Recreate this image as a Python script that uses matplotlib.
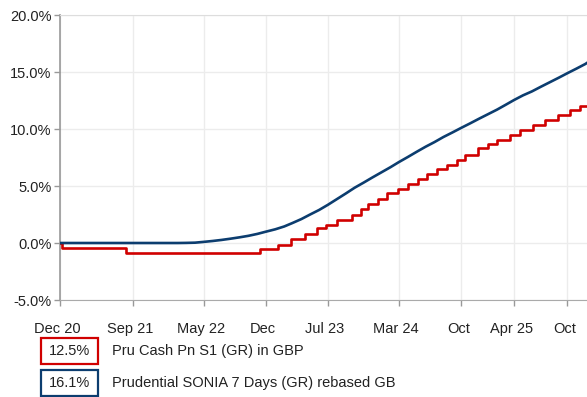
import pandas as pd
import matplotlib.pyplot as plt
import matplotlib.dates as mdates
import matplotlib.transforms as mtransforms
from matplotlib.patches import Rectangle

plt.rcParams['font.family'] = ['Liberation Sans', 'DejaVu Sans']

# Pru Cash Pn S1 (GR) in GBP - cumulative % growth, step changes
cash_dates = ['2020-12-23', '2020-12-30', '2021-08-07', '2022-11-10', '2023-01-11',
              '2023-02-24', '2023-04-14', '2023-05-25', '2023-06-25', '2023-08-01',
              '2023-09-22', '2023-10-23', '2023-11-16', '2023-12-20', '2024-01-20',
              '2024-02-27', '2024-04-01', '2024-05-07', '2024-06-06', '2024-07-10',
              '2024-08-13', '2024-09-17', '2024-10-14', '2024-11-28', '2025-01-01',
              '2025-02-01', '2025-03-18', '2025-04-21', '2025-06-05', '2025-07-16',
              '2025-08-30', '2025-10-10', '2025-11-13', '2025-12-07']
cash_vals = [0.0, -0.4, -0.9, -0.52, -0.18, 0.32, 0.76, 1.29, 1.58, 2.0,
             2.5, 2.95, 3.45, 3.9, 4.36, 4.74, 5.18, 5.6, 6.03, 6.47,
             6.84, 7.28, 7.72, 8.3, 8.66, 9.03, 9.47, 9.9, 10.35, 10.8,
             11.2, 11.67, 12.0, 12.0]

# Prudential SONIA 7 Days (GR) rebased GB - cumulative % growth
sonia_dates = ['2020-12-23', '2022-02-01', '2022-03-01', '2022-04-01', '2022-05-01',
               '2022-06-01', '2022-07-01', '2022-08-01', '2022-09-01', '2022-10-01',
               '2022-11-01', '2022-12-01', '2023-01-01', '2023-02-01', '2023-03-01',
               '2023-04-01', '2023-05-01', '2023-06-01', '2023-07-01', '2023-08-01',
               '2023-09-01', '2023-10-01', '2023-11-01', '2023-12-01', '2024-01-01',
               '2024-02-01', '2024-03-01', '2024-04-01', '2024-05-01', '2024-06-01',
               '2024-07-01', '2024-08-01', '2024-09-01', '2024-10-01', '2024-11-01',
               '2024-12-01', '2025-01-01', '2025-02-01', '2025-03-01', '2025-04-01',
               '2025-05-01', '2025-06-01', '2025-07-01', '2025-08-01', '2025-09-01',
               '2025-10-01', '2025-11-01', '2025-12-01', '2025-12-07']
sonia_vals = [0.0, 0.0, 0.01, 0.03, 0.1, 0.18, 0.27, 0.38, 0.5, 0.63,
              0.8, 1.0, 1.2, 1.45, 1.75, 2.1, 2.5, 2.9, 3.35, 3.85,
              4.35, 4.85, 5.3, 5.75, 6.2, 6.65, 7.1, 7.55, 8.0, 8.45,
              8.85, 9.3, 9.7, 10.1, 10.5, 10.9, 11.3, 11.7, 12.1, 12.55,
              12.95, 13.3, 13.7, 14.1, 14.5, 14.9, 15.3, 15.7, 15.8]

tick_dates = ['2020-12-23', '2021-09-01', '2022-05-01', '2022-12-01', '2023-07-01',
              '2024-03-01', '2024-10-01', '2025-04-01', '2025-10-01']
tick_labels = ['Dec 20', 'Sep 21', 'May 22', 'Dec', 'Jul 23', 'Mar 24', 'Oct',
               'Apr 25', 'Oct']

legend_values = ['12.5%', '16.1%']
legend_names = ['Pru Cash Pn S1 (GR) in GBP',
                'Prudential SONIA 7 Days (GR) rebased GB']

red = '#d00000'
blue = '#0c3d6f'
text_col = '#222222'

fig = plt.figure(figsize=(5.87, 3.97), dpi=100)
ax = fig.add_axes([0.1022, 0.2443, 0.8978, 0.7179])

ax.step(pd.to_datetime(cash_dates), cash_vals, where='post', color=red, lw=1.9,
        zorder=3)
ax.plot(pd.to_datetime(sonia_dates), sonia_vals, color=blue, lw=1.9, zorder=4)

ax.set_xlim(pd.Timestamp('2020-12-23'), pd.Timestamp('2025-12-07'))
ax.set_ylim(-5, 20)
ax.set_yticks([-5, 0, 5, 10, 15, 20])
ax.set_yticklabels([f'{v:.1f}%' for v in [-5, 0, 5, 10, 15, 20]])
ax.set_xticks(mdates.date2num(pd.to_datetime(tick_dates)))
ax.set_xticklabels(tick_labels)

ax.tick_params(axis='both', colors='#999999', labelcolor=text_col, labelsize=10.5,
               length=4, width=1)
ax.tick_params(axis='x', pad=12)
ax.tick_params(axis='y', pad=2)

# x labels sit a touch left of their ticks
shift = mtransforms.ScaledTranslation(-3 / 100, 0, fig.dpi_scale_trans)
for lbl in ax.get_xticklabels():
    lbl.set_transform(lbl.get_transform() + shift)

ax.grid(True, color='#ececec', lw=1)
ax.set_axisbelow(True)
for side in ['right']:
    ax.spines[side].set_visible(False)
ax.spines['top'].set_color('#dddddd')
ax.spines['left'].set_color('#999999')
ax.spines['bottom'].set_color('#aaaaaa')
ax.spines['left'].set_linewidth(1.2)

# legend boxes below the chart
box_rows = [(0.0831, red), (0.0025, blue)]
for (y0, col), val, name in zip(box_rows, legend_values, legend_names):
    fig.add_artist(Rectangle((0.0693, y0), 0.0971, 0.0655, transform=fig.transFigure,
                             fill=False, edgecolor=col, lw=1.6))
    fig.text(0.1179, y0 + 0.033, val, ha='center', va='center', fontsize=10.5,
             color=text_col)
    fig.text(0.1908, y0 + 0.033, name, ha='left', va='center', fontsize=10.5,
             color=text_col)

plt.savefig('out.png', dpi=100)
